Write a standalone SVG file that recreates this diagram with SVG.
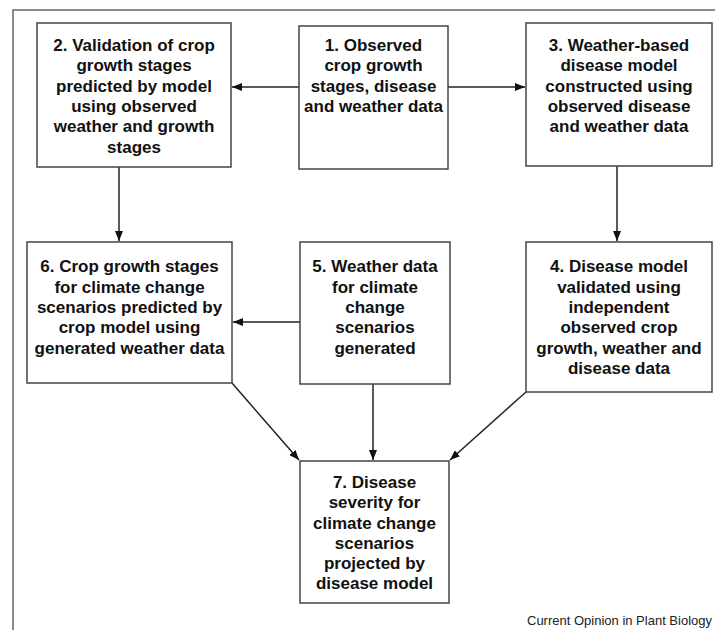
<svg xmlns="http://www.w3.org/2000/svg" width="715" height="630" viewBox="0 0 715 630">
<defs>
<marker id="ah" viewBox="0 0 10 8" refX="10" refY="4" markerWidth="10" markerHeight="8" markerUnits="userSpaceOnUse" orient="auto">
<path d="M0,0 L10,4 L0,8 Z" fill="#111"/>
</marker>
<style>
.box{fill:#fff;stroke:#444;stroke-width:1.5}
.t{font-family:"Liberation Sans",Arial,sans-serif;font-weight:bold;font-size:17px;fill:#111;text-anchor:middle}
.c{stroke:#222;stroke-width:1.5;fill:none;marker-end:url(#ah)}
.frame{stroke:#666;stroke-width:1.5;fill:none}
.foot{font-family:"Liberation Sans",Arial,sans-serif;font-size:13px;fill:#222}
</style>
</defs>
<rect width="715" height="630" fill="#fff"/>
<path class="frame" d="M13,630 L13,10 L715,10"/>
<g id="connectors">
<line class="c" x1="299" y1="87" x2="232" y2="87"/>
<line class="c" x1="448" y1="87" x2="525" y2="87"/>
<line class="c" x1="119" y1="167" x2="119" y2="241"/>
<line class="c" x1="617" y1="166" x2="617" y2="241"/>
<line class="c" x1="300" y1="322" x2="233" y2="322"/>
<line class="c" x1="373" y1="384" x2="373" y2="460"/>
<line class="c" x1="232" y1="383" x2="299" y2="460"/>
<line class="c" x1="526" y1="392" x2="450" y2="460"/>
</g>
<g id="n1">
<rect class="box" x="299" y="26" width="149" height="143"/>
<text class="t"><tspan x="373.5" y="51">1. Observed</tspan><tspan x="373.5" y="71.3">crop growth</tspan><tspan x="373.5" y="91.6">stages, disease</tspan><tspan x="373.5" y="112">and weather data</tspan></text>
</g>
<g id="n2">
<rect class="box" x="37" y="23" width="194" height="144"/>
<text class="t"><tspan x="134" y="51">2. Validation of crop</tspan><tspan x="134" y="71.3">growth stages</tspan><tspan x="134" y="91.6">predicted by model</tspan><tspan x="134" y="112">using observed</tspan><tspan x="134" y="132.3">weather and growth</tspan><tspan x="134" y="152.6">stages</tspan></text>
</g>
<g id="n3">
<rect class="box" x="526" y="23" width="186" height="143"/>
<text class="t"><tspan x="619" y="51">3. Weather-based</tspan><tspan x="619" y="71.3">disease model</tspan><tspan x="619" y="91.6">constructed using</tspan><tspan x="619" y="112">observed disease</tspan><tspan x="619" y="132.3">and weather data</tspan></text>
</g>
<g id="n4">
<rect class="box" x="526" y="242" width="186" height="150"/>
<text class="t"><tspan x="619" y="272">4. Disease model</tspan><tspan x="619" y="292.5">validated using</tspan><tspan x="619" y="313">independent</tspan><tspan x="619" y="333.3">observed crop</tspan><tspan x="619" y="354">growth, weather and</tspan><tspan x="619" y="374.3">disease data</tspan></text>
</g>
<g id="n5">
<rect class="box" x="300" y="242" width="150" height="142"/>
<text class="t"><tspan x="375" y="272">5. Weather data</tspan><tspan x="375" y="292.5">for climate</tspan><tspan x="375" y="313">change</tspan><tspan x="375" y="333.3">scenarios</tspan><tspan x="375" y="354">generated</tspan></text>
</g>
<g id="n6">
<rect class="box" x="27" y="242" width="205" height="141"/>
<text class="t"><tspan x="129.5" y="272">6. Crop growth stages</tspan><tspan x="129.5" y="292.5">for climate change</tspan><tspan x="129.5" y="313">scenarios predicted by</tspan><tspan x="129.5" y="333.3">crop model using</tspan><tspan x="129.5" y="354">generated weather data</tspan></text>
</g>
<g id="n7">
<rect class="box" x="300" y="461" width="149" height="142"/>
<text class="t"><tspan x="374.5" y="487.5">7. Disease</tspan><tspan x="374.5" y="508">severity for</tspan><tspan x="374.5" y="528.5">climate change</tspan><tspan x="374.5" y="548.7">scenarios</tspan><tspan x="374.5" y="569">projected by</tspan><tspan x="374.5" y="589.3">disease model</tspan></text>
</g>
<text class="foot" x="712" y="625" text-anchor="end">Current Opinion in Plant Biology</text>
</svg>
